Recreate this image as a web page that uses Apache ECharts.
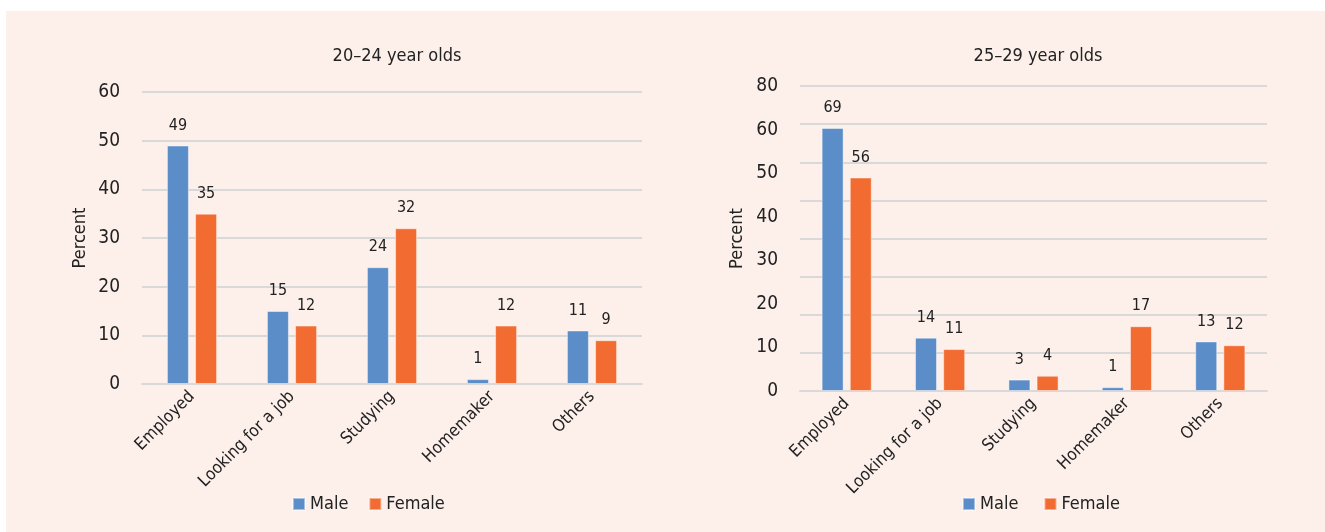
<!DOCTYPE html>
<html>
<head>
<meta charset="utf-8">
<script src="https://cdn.jsdelivr.net/npm/echarts@6/dist/echarts.min.js"></script>
<style>
html,body{margin:0;padding:0;background:#fff;}
#c{width:1325px;height:532px;}
</style>
</head>
<body>
<div id="c"></div>
<script>
const categories = ['Employed', 'Looking for a job', 'Studying', 'Homemaker', 'Others'];
const titleLeft = '20–24 year olds';
const titleRight = '25–29 year olds';
const maleLeft = [49, 15, 24, 1, 11];
const femaleLeft = [35, 12, 32, 12, 9];
const maleRight = [69, 14, 3, 1, 13];
const femaleRight = [56, 11, 4, 17, 12];
const leftTicks = [0, 10, 20, 30, 40, 50, 60];
const rightTickLabels = ['0', '10', '20', '30', '40', '50', '60', '80'];

const FONT = '"DejaVu Sans Condensed", "Liberation Sans Narrow", "Roboto", sans-serif';
const BLUE = '#5B8DC9';
const ORANGE = '#F26C32';
const GRID = '#D9D9D9';
const TXT = '#222222';

const chart = echarts.init(document.getElementById('c'), null, {renderer: 'canvas'});

function bar(name, data, xi, yi, color) {
  return {
    name: name, type: 'bar', xAxisIndex: xi, yAxisIndex: yi, data: data,
    barWidth: 22, barGap: '28%',
    itemStyle: {color: color, borderColor: 'rgba(255,255,255,0.45)', borderWidth: 1},
    label: {show: true, position: 'top', distance: 12, color: TXT, fontSize: 16, fontFamily: FONT},
    emphasis: {disabled: true}
  };
}

const catAxis = (gi) => ({
  type: 'category', gridIndex: gi, data: categories,
  axisLine: {show: true, lineStyle: {color: GRID, width: 2}},
  axisTick: {show: false},
  axisLabel: {rotate: 45, fontSize: 17, color: TXT, fontFamily: FONT, margin: 10, interval: 0}
});

const option = {
  backgroundColor: '#ffffff',
  animation: false,
  graphic: [{type: 'rect', left: 6, top: 11, shape: {width: 1319, height: 521}, style: {fill: '#FDF0EB'}, z: -10}],
  title: [
    {text: titleLeft, left: 392, top: 42, textAlign: 'center', textStyle: {fontSize: 18, fontWeight: 'normal', color: TXT, fontFamily: FONT}},
    {text: titleRight, left: 1033, top: 42, textAlign: 'center', textStyle: {fontSize: 18, fontWeight: 'normal', color: TXT, fontFamily: FONT}}
  ],
  legend: [
    {data: ['Male', 'Female'], left: 287, top: 490, itemWidth: 12, itemHeight: 12, itemGap: 20, icon: 'rect',
     textStyle: {fontSize: 18, color: TXT, fontFamily: FONT}, selectedMode: false},
    {data: ['Male ', 'Female '], left: 957, top: 490, itemWidth: 12, itemHeight: 12, itemGap: 20, icon: 'rect',
     textStyle: {fontSize: 18, color: TXT, fontFamily: FONT}, selectedMode: false}
  ],
  grid: [
    {left: 142, right: 683, top: 92, bottom: 148},
    {left: 800, right: 58, top: 86, bottom: 141}
  ],
  xAxis: [catAxis(0), catAxis(1)],
  yAxis: [
    {type: 'value', gridIndex: 0, min: leftTicks[0], max: leftTicks[leftTicks.length - 1], interval: 10,
     name: 'Percent', nameLocation: 'middle', nameGap: 53, nameRotate: 90,
     nameTextStyle: {fontSize: 18, color: TXT, fontFamily: FONT},
     axisLine: {show: false}, axisTick: {show: false},
     axisLabel: {fontSize: 19, color: TXT, fontFamily: FONT, margin: 22},
     splitLine: {lineStyle: {color: GRID, width: 2}}},
    {type: 'value', gridIndex: 1, min: 0, max: 80, interval: 10,
     axisLine: {show: false}, axisTick: {show: false}, axisLabel: {show: false},
     splitLine: {lineStyle: {color: GRID, width: 2}}},
    {type: 'value', gridIndex: 1, position: 'left', min: 0, max: rightTickLabels.length - 1, interval: 1,
     name: 'Percent', nameLocation: 'middle', nameGap: 54, nameRotate: 90,
     nameTextStyle: {fontSize: 18, color: TXT, fontFamily: FONT},
     axisLine: {show: false}, axisTick: {show: false}, splitLine: {show: false},
     axisLabel: {fontSize: 19, color: TXT, fontFamily: FONT, margin: 22,
       formatter: (v) => rightTickLabels[Math.round(v)] ?? ''}}
  ],
  series: [
    bar('Male', maleLeft, 0, 0, BLUE),
    bar('Female', femaleLeft, 0, 0, ORANGE),
    bar('Male ', maleRight, 1, 1, BLUE),
    bar('Female ', femaleRight, 1, 1, ORANGE)
  ]
};
chart.setOption(option);
</script>
</body>
</html>
